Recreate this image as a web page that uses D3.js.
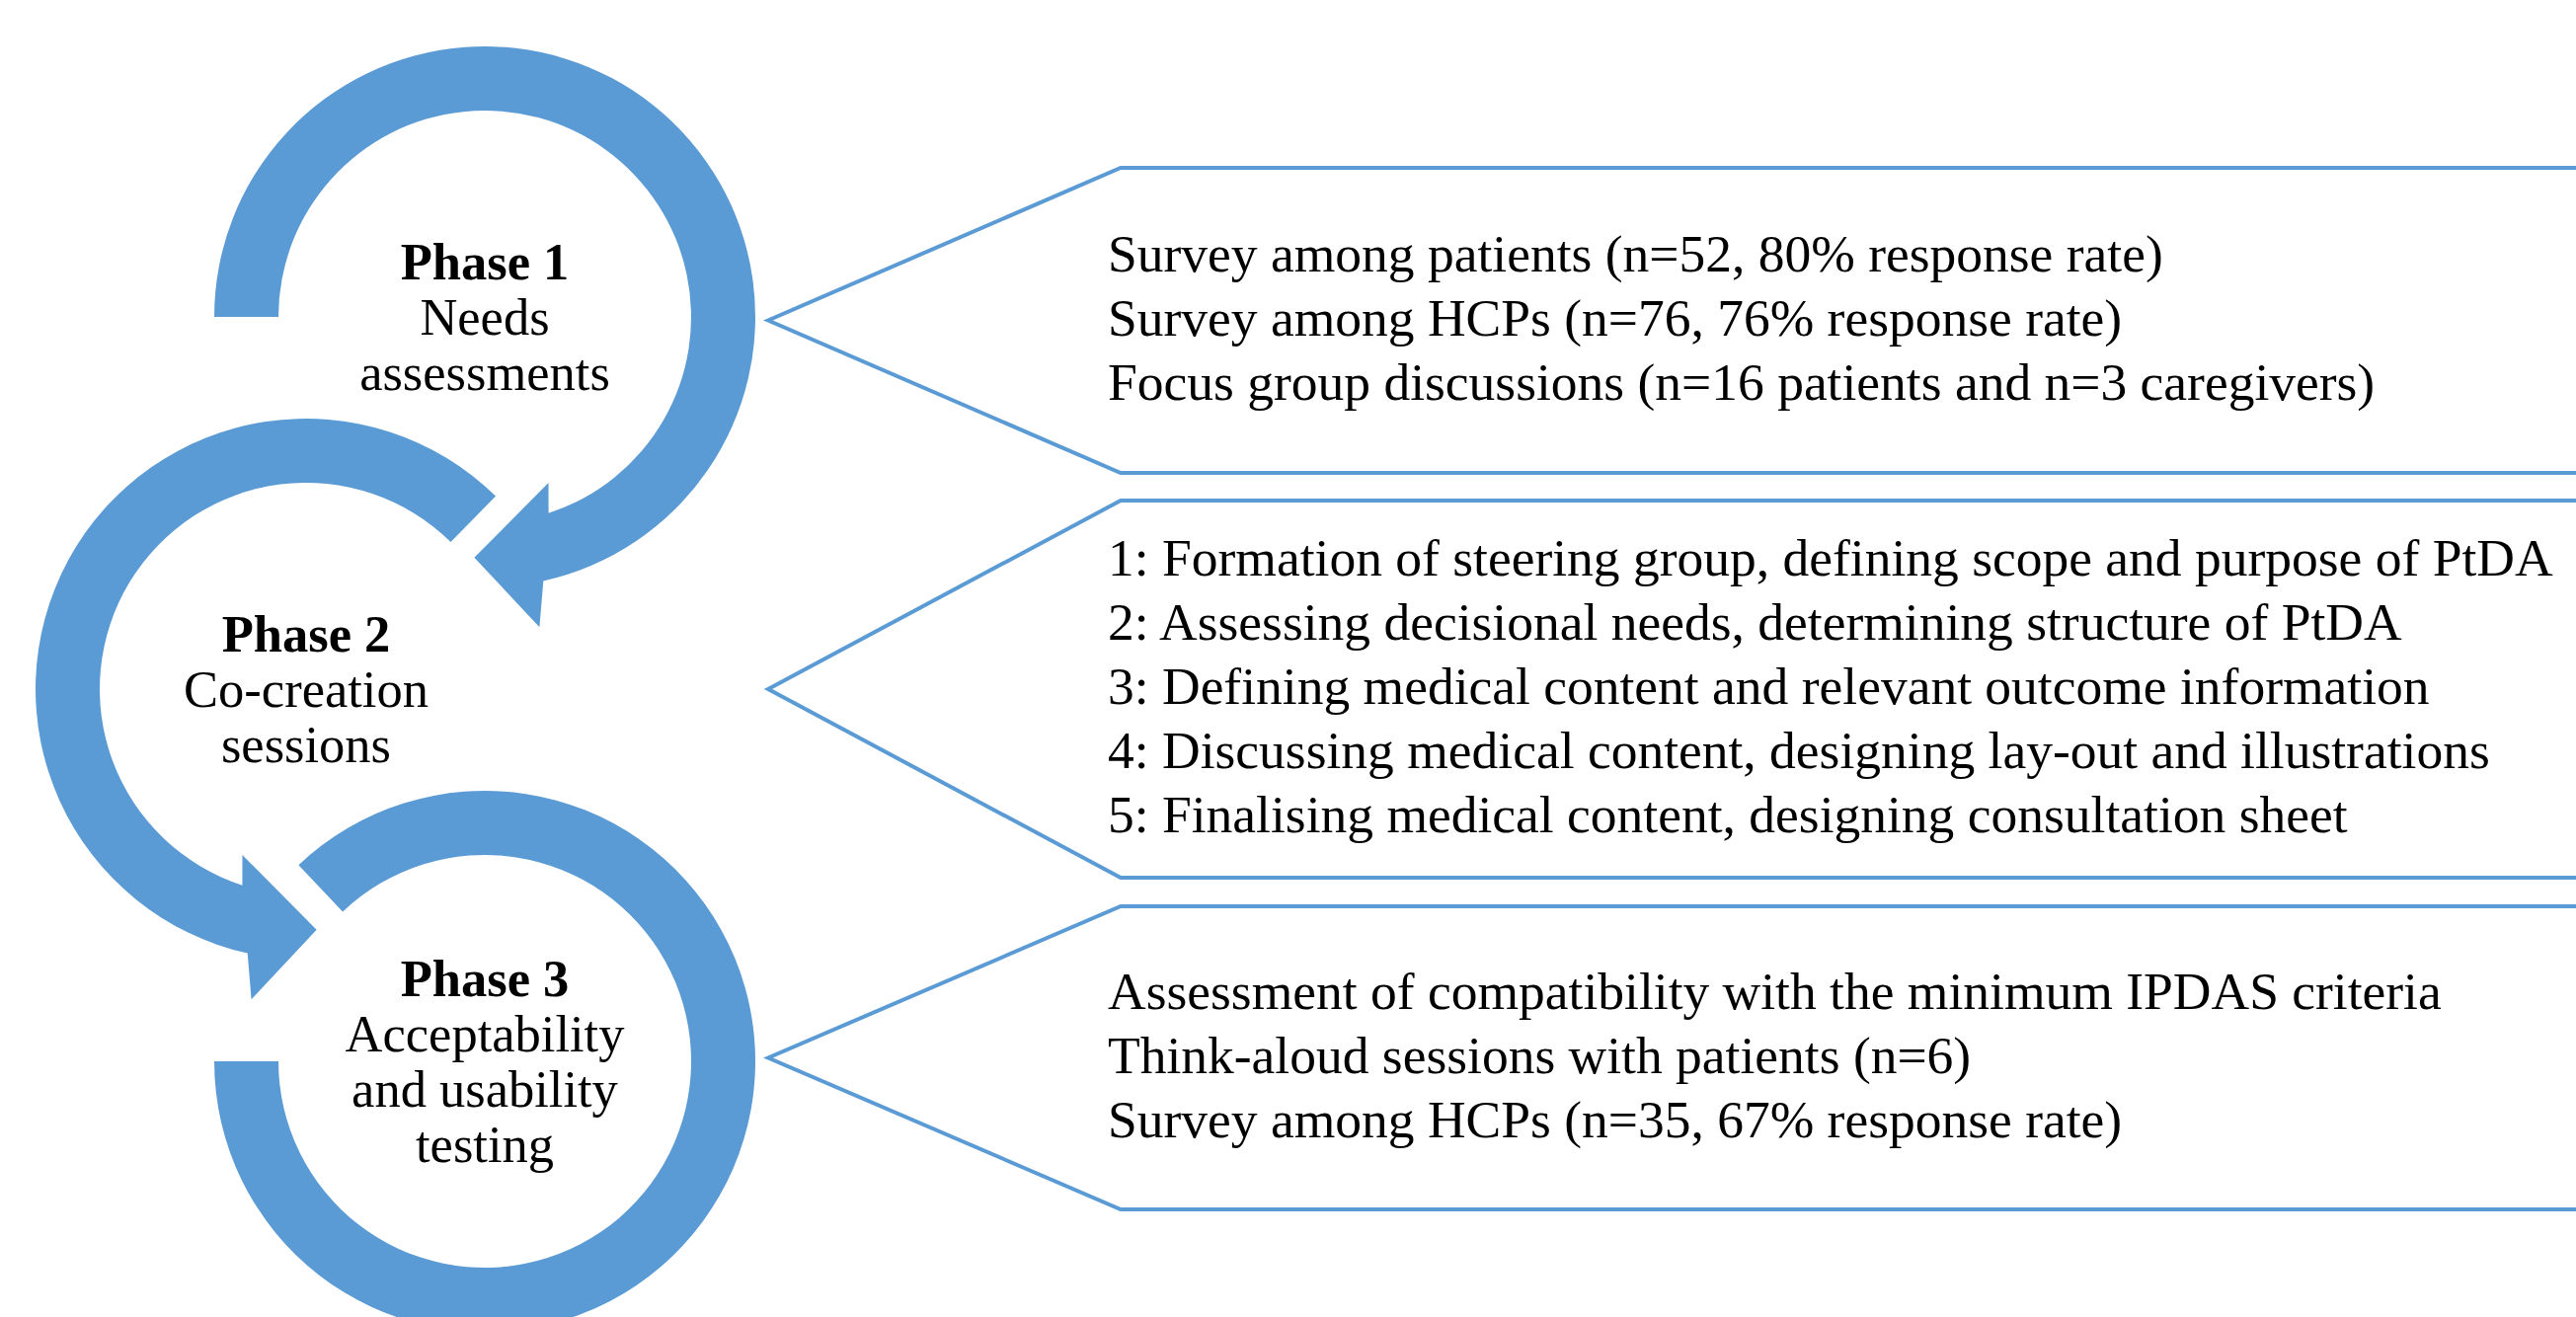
<!DOCTYPE html>
<html>
<head>
<meta charset="utf-8">
<script src="https://cdn.jsdelivr.net/npm/d3@7"></script>
<style>
  html, body { margin: 0; padding: 0; background: #fff; overflow: hidden; }
  text { font-family: 'Liberation Serif', 'Times New Roman', serif; fill: #000; }
</style>
</head>
<body>
<svg></svg>
<script>
// phases of the PtDA development
var phaseTitles = ['Phase 1', 'Phase 2', 'Phase 3'];
var phaseNames = [
  ['Needs', 'assessments'],
  ['Co-creation', 'sessions'],
  ['Acceptability', 'and usability', 'testing']
];
var phaseActivities = [
  ['Survey among patients (n=52, 80% response rate)',
   'Survey among HCPs (n=76, 76% response rate)',
   'Focus group discussions (n=16 patients and n=3 caregivers)'],
  ['1: Formation of steering group, defining scope and purpose of PtDA',
   '2: Assessing decisional needs, determining structure of PtDA',
   '3: Defining medical content and relevant outcome information',
   '4: Discussing medical content, designing lay-out and illustrations',
   '5: Finalising medical content, designing consultation sheet'],
  ['Assessment of compatibility with the minimum IPDAS criteria',
   'Think-aloud sessions with patients (n=6)',
   'Survey among HCPs (n=35, 67% response rate)']
];

var width = 2609;
var height = 1334;
var blue = '#5b9bd5';

var svg = d3.select('svg')
  .attr('width', width)
  .attr('height', height)
  .style('display', 'block');

// layout
var cy = d3.scaleLinear().domain([0, 2]).range([321, 1075]);
var cx = [491, 310, 491];
var R = 274, r = 209;
// arc start / end angle (deg, clockwise from east), direction, arrow head
var arcs = [
  { start: 180, end: 437.5, dir: 1, arrow: true },
  { start: 314.5, end: 102.5, dir: -1, arrow: true },
  { start: 226.5, end: 540, dir: 1, arrow: false }
];

function pt(x0, y0, rad, deg) {
  var a = deg * Math.PI / 180;
  return [x0 + rad * Math.cos(a), y0 + rad * Math.sin(a)];
}

function arrowPath(i) {
  var a = arcs[i], x0 = cx[i], y0 = cy(i), d = a.dir;
  var s0 = pt(x0, y0, R, a.start);
  var big = Math.abs(a.end - a.start) > 180 ? 1 : 0;
  var sweepOut = d > 0 ? 1 : 0, sweepIn = d > 0 ? 0 : 1;
  var e0 = pt(x0, y0, R, a.end);
  var innerEnd = a.arrow ? a.end - 5.5 * d : a.end;
  var e1 = pt(x0, y0, r, innerEnd);
  var s1 = pt(x0, y0, r, a.start);
  var str = 'M' + s0 + 'A' + R + ',' + R + ' 0 ' + big + ' ' + sweepOut + ' ' + e0;
  if (a.arrow) {
    var ow = pt(x0, y0, 319, a.end + 2.5 * d);
    var tip = pt(x0, y0, 244, a.end + 15 * d);
    var iw = pt(x0, y0, 180, a.end - 8.5 * d);
    str += 'L' + ow + 'L' + tip + 'L' + iw + 'L' + e1;
  } else {
    str += 'L' + e1;
  }
  var bigIn = Math.abs(innerEnd - a.start) > 180 ? 1 : 0;
  str += 'A' + r + ',' + r + ' 0 ' + bigIn + ' ' + sweepIn + ' ' + s1 + 'Z';
  return str;
}

// callout boxes
var boxTop = [170, 507, 918];
var boxBottom = [479, 889, 1225];
var tipX = 778, cornerX = 1135;

svg.append('g')
  .selectAll('path')
  .data(phaseActivities)
  .enter().append('path')
    .attr('d', function(d, i) {
      var mid = (boxTop[i] + boxBottom[i]) / 2;
      return 'M' + (width + 20) + ',' + boxTop[i] +
        'L' + cornerX + ',' + boxTop[i] +
        'L' + tipX + ',' + mid +
        'L' + cornerX + ',' + boxBottom[i] +
        'L' + (width + 20) + ',' + boxBottom[i];
    })
    .attr('fill', 'none')
    .attr('stroke', blue)
    .attr('stroke-width', 4);

svg.append('g')
  .selectAll('path')
  .data(arcs)
  .enter().append('path')
    .attr('d', function(d, i) { return arrowPath(i); })
    .attr('fill', blue);

// phase labels
phaseTitles.forEach(function(t, i) {
  var lines = [t].concat(phaseNames[i]);
  var n = lines.length;
  svg.append('g').selectAll('text')
    .data(lines)
    .enter().append('text')
      .attr('x', cx[i])
      .attr('y', function(d, j) { return cy(i) + 18 + (j - (n - 1) / 2) * 56; })
      .attr('text-anchor', 'middle')
      .attr('font-size', 52.5)
      .attr('font-weight', function(d, j) { return j === 0 ? 'bold' : 'normal'; })
      .text(function(d) { return d; });
});

// activity text
phaseActivities.forEach(function(list, i) {
  var mid = (boxTop[i] + boxBottom[i]) / 2;
  var n = list.length;
  svg.append('g').selectAll('text')
    .data(list)
    .enter().append('text')
      .attr('x', 1122)
      .attr('y', function(d, j) { return mid + 15 + (j - (n - 1) / 2) * 65; })
      .attr('font-size', 53.5)
      .text(function(d) { return d; });
});
</script>
</body>
</html>
